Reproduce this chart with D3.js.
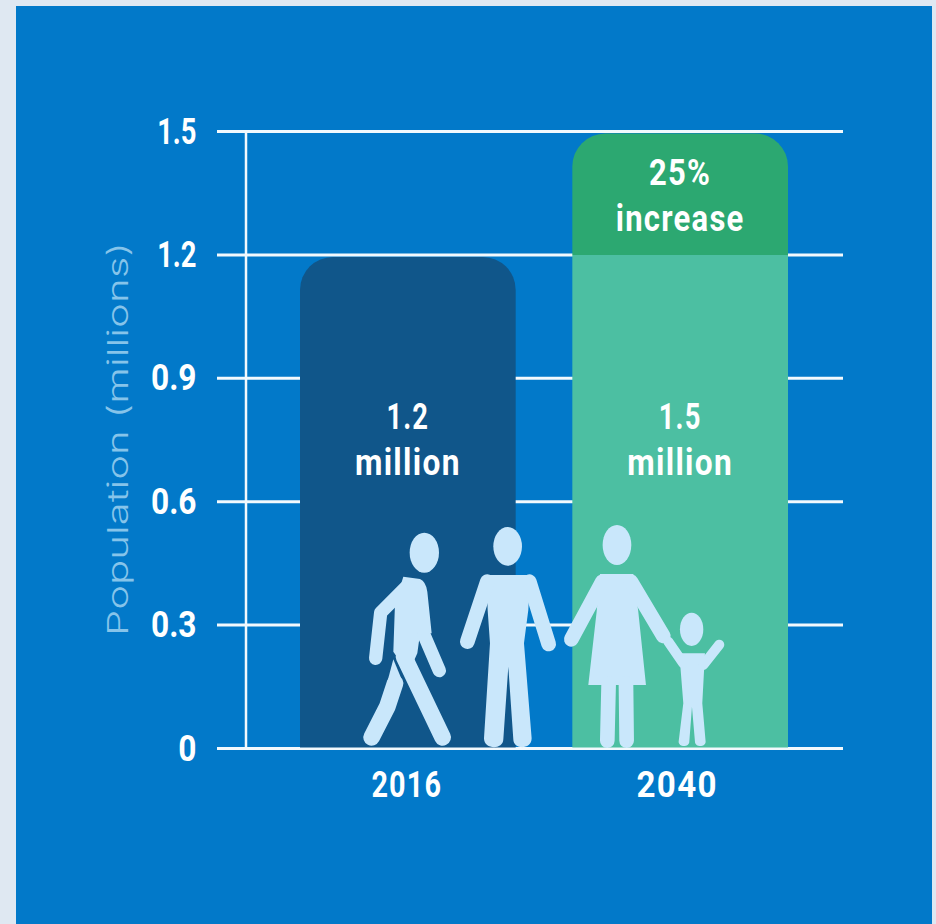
<!DOCTYPE html>
<html>
<head>
    <meta charset="utf-8">
    <script src="https://d3js.org/d3.v7.min.js"></script>
    <style>
        html, body {margin: 0; padding: 0; background: #dfe8f2; overflow: hidden;}
        svg {display: block;}
        text {font-family: Roboto, sans-serif; fill: #fff;}
        .tick-label {font-size: 36px; font-weight: 700;}
        .bar-label {font-size: 36px; font-weight: 700; letter-spacing: 1.5px; text-anchor: middle;}
        .y-title {font-family: Inter, sans-serif; font-size: 29px; font-weight: 300; fill: #86c4ea; text-anchor: middle;}
    </style>
</head>
<body>
    <svg width="936" height="924"></svg>
    <script>
        // Values
        const years = ["2016", "2040"];
        const basePopulation = [1.2, 1.2];
        const increase = [0, 0.3];
        const yTicks = [0, 0.3, 0.6, 0.9, 1.2, 1.5];
        const baseLabels = [["1.2", "million"], ["1.5", "million"]];
        const increaseLabel = ["25%", "increase"];
        const baseColors = ["#10568a", "#4cbfa2"];
        const increaseColor = "#2ca871";
        const figureColor = "#c9e7fb";

        const svg = d3.select("svg");

        // The original type is a condensed face, so squeeze the installed one
        function condense(sel, k) {
            sel.each(function(d) {
                const f = typeof k === "function" ? k(d) : k;
                d3.select(this)
                    .attr("textLength", this.getComputedTextLength() * f)
                    .attr("lengthAdjust", "spacingAndGlyphs");
            });
        }

        svg.append("rect")
            .attr("x", 16).attr("y", 6)
            .attr("width", 916).attr("height", 918)
            .attr("fill", "#0279c9");

        const y = d3.scaleLinear().domain([0, 1.5]).range([748.5, 131.5]);
        const x = d3.scaleBand().domain(years).range([300, 788]).paddingInner(0.208);

        // Grid lines
        svg.append("g").selectAll("line")
            .data(yTicks)
            .enter()
            .append("line")
            .attr("x1", 217).attr("x2", 843)
            .attr("y1", d => y(d)).attr("y2", d => y(d))
            .attr("stroke", "#f2f9fd").attr("stroke-width", 3);

        // Y axis, only the labels and the vertical line
        const yAxis = svg.append("g")
            .attr("transform", "translate(245.5,0)")
            .call(d3.axisLeft(y).tickValues(yTicks).tickSize(0).tickPadding(49)
                .tickFormat(d => d === 0 ? "0" : d3.format(".1f")(d)));
        yAxis.select(".domain").attr("stroke", "#f2f9fd").attr("stroke-width", 2.5);
        yAxis.selectAll("text").attr("class", "tick-label").attr("dy", "0.32em")
            .call(condense, d => d >= 1 ? 0.76 : 0.88);

        // Bars with rounded tops
        const radius = 33;
        function roundedTop(x0, w, yTop, yBottom) {
            const p = d3.path();
            p.moveTo(x0, yBottom);
            p.lineTo(x0, yTop + radius);
            p.arcTo(x0, yTop, x0 + radius, yTop, radius);
            p.lineTo(x0 + w - radius, yTop);
            p.arcTo(x0 + w, yTop, x0 + w, yTop + radius, radius);
            p.lineTo(x0 + w, yBottom);
            p.closePath();
            return p.toString();
        }
        function square(x0, w, yTop, yBottom) {
            const p = d3.path();
            p.rect(x0, yTop, w, yBottom - yTop);
            return p.toString();
        }

        years.forEach((yr, i) => {
            const top = basePopulation[i];
            const shape = increase[i] > 0 ? square : roundedTop;
            svg.append("path")
                .attr("d", shape(x(yr), x.bandwidth(), y(top) + (increase[i] > 0 ? 0 : 2), y(0) - 1))
                .attr("fill", baseColors[i]);
            if (increase[i] > 0) {
                svg.append("path")
                    .attr("d", roundedTop(x(yr), x.bandwidth(), y(top + increase[i]) + 2, y(top)))
                    .attr("fill", increaseColor);
            }
            baseLabels[i].forEach((t, j) => {
                svg.append("text")
                    .attr("class", "bar-label")
                    .attr("x", x(yr) + x.bandwidth() / 2)
                    .attr("y", 429 + j * 46)
                    .text(t)
                    .call(condense, j === 0 ? 0.76 : 0.88);
            });
        });

        increaseLabel.forEach((t, j) => {
            svg.append("text")
                .attr("class", "bar-label")
                .attr("x", x("2040") + x.bandwidth() / 2)
                .attr("y", 185 + j * 46)
                .text(t)
                .call(condense, 0.86);
        });

        // X axis labels
        const xAxis = svg.append("g")
            .attr("transform", "translate(0,748)")
            .call(d3.axisBottom(x).tickSize(0).tickPadding(23));
        xAxis.select(".domain").remove();
        xAxis.selectAll("text").attr("class", "tick-label").style("letter-spacing", "1.5px")
            .attr("dx", d => d === "2040" ? -3 : -1)
            .call(condense, d => d === "2040" ? 0.92 : 0.8);

        svg.append("text")
            .attr("class", "y-title")
            .attr("transform", "translate(128,439) rotate(-90)")
            .attr("textLength", 394)
            .attr("lengthAdjust", "spacingAndGlyphs")
            .text("Population (millions)");

        // People, drawn in the 3x zoom space of the lower part of the chart
        const people = svg.append("g")
            .attr("transform", "translate(340,510) scale(0.3333)");

        const heads = [[253, 128, 44, 60], [503, 109, 43, 58], [831, 105, 43, 60], [1055, 358, 35, 50]];
        people.selectAll("ellipse")
            .data(heads)
            .enter()
            .append("ellipse")
            .attr("cx", d => d[0]).attr("cy", d => d[1])
            .attr("rx", d => d[2]).attr("ry", d => d[3])
            .attr("fill", figureColor);

        const fills = [
            // walker: torso, then the top of the back leg
            "M190,200 L240,207 Q258,215 262,245 L275,370 L240,372 L232,430 L205,490 L160,425 L165,280 Z",
            "M160,448 L188,515 L141,520 Z",
            // man
            "M440,195 L570,195 L565,300 L552,400 L575,685 C575,720 520,720 520,688 L505,470 L490,688 C490,720 432,720 432,685 L450,400 L443,300 Z",
            // woman
            "M780,192 L880,192 L895,305 L918,525 L745,525 L770,305 Z",
            // child
            "M1018,430 L1095,430 L1087,580 L1097,695 C1097,712 1065,712 1065,695 L1056,590 L1048,695 C1048,712 1016,712 1016,695 L1030,580 Z"
        ];
        people.selectAll("path.fill")
            .data(fills)
            .enter()
            .append("path")
            .attr("class", "fill")
            .attr("d", d => d)
            .attr("fill", figureColor);

        // Limbs as thick round lines: [width, path]
        const limbs = [
            [40, "M198,232 L122,308 L107,445"],
            [40, "M252,375 L298,482"],
            [50, "M192,440 L308,682"],
            [50, "M165,520 L142,590 L95,682"],
            [44, "M442,215 L382,395"],
            [44, "M568,215 L626,402"],
            [44, "M787,215 L694,388"],
            [44, "M873,215 L970,378"],
            [30, "M985,395 L1030,460"],
            [30, "M1138,404 L1090,465"],
            [44, "M806,520 L802,692"],
            [44, "M858,520 L860,692"]
        ];
        people.selectAll("path.limb")
            .data(limbs)
            .enter()
            .append("path")
            .attr("class", "limb")
            .attr("d", d => d[1])
            .attr("fill", "none")
            .attr("stroke", figureColor)
            .attr("stroke-width", d => d[0])
            .attr("stroke-linecap", "round")
            .attr("stroke-linejoin", "round");
    </script>
</body>
</html>
